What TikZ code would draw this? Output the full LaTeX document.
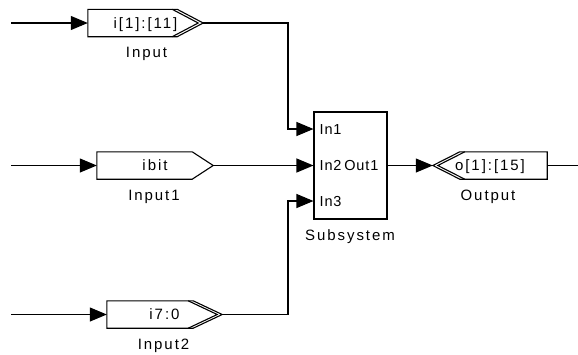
\documentclass[tikz,border=0pt]{standalone}
\usepackage{fontspec}
\setmainfont{Liberation Sans}
\newfontfamily\blockfont[LetterSpace=13]{Liberation Sans}
\newfontfamily\portfont[LetterSpace=6]{Liberation Sans}
\usetikzlibrary{arrows.meta,calc}

\begin{document}
\begin{tikzpicture}[x=1pt,y=-1pt,
  wire/.style={line width=1.1pt},
  sig/.style={wire,-{Triangle[length=17pt,width=14pt]}},
  outline/.style={line width=1.1pt,line join=miter},
  gw/.style={minimum height=27pt,inner sep=0pt,
    font={\blockfont\fontsize{15pt}{18pt}\selectfont},
    text height=10.7pt,text depth=0pt},
  lbl/.style={anchor=base,inner sep=0pt,
    font={\blockfont\fontsize{15pt}{18pt}\selectfont}},
  portlbl/.style={inner sep=0pt,
    font={\portfont\fontsize{14.5pt}{17pt}\selectfont},
    text height=10.4pt,text depth=0pt}
]
\useasboundingbox (0,0) rectangle (578,354);

% gateway blocks
\node[gw,minimum width=115pt] (gin)  at (145.5,23)    {i[1]:[11]};
\node[gw,minimum width=116pt] (gin1) at (155,165.5)   {ibit};
\node[gw,minimum width=115pt] (gin2) at (164.5,314.5) {i7:0};
\node[gw,minimum width=114pt] (gout) at (490,165.5)   {o[1]:[15]};

% Input: double chevron
\draw[outline] (gin.north west) -- ([xshift=-26pt]gin.north east) -- (gin.east)
  -- ([xshift=-26pt]gin.south east) -- (gin.south west) -- cycle;
\draw[outline] ([xshift=-31pt]gin.north east) -- ([xshift=-5pt]gin.east)
  -- ([xshift=-31pt]gin.south east);

% Input1: single chevron
\draw[outline] (gin1.north west) -- ([xshift=-21pt]gin1.north east) -- (gin1.east)
  -- ([xshift=-21pt]gin1.south east) -- (gin1.south west) -- cycle;

% Input2: double chevron
\draw[outline] (gin2.north west) -- ([xshift=-29pt]gin2.north east) -- (gin2.east)
  -- ([xshift=-29pt]gin2.south east) -- (gin2.south west) -- cycle;
\draw[outline] ([xshift=-34pt]gin2.north east) -- ([xshift=-5pt]gin2.east)
  -- ([xshift=-34pt]gin2.south east);

% Output: double chevron on the left
\draw[outline] (gout.west) -- ([xshift=27pt]gout.north west) -- (gout.north east)
  -- (gout.south east) -- ([xshift=27pt]gout.south west) -- cycle;
\draw[outline] ([xshift=32pt]gout.north west) -- ([xshift=5pt]gout.west)
  -- ([xshift=32pt]gout.south west);

% block names
\node[lbl] (tin)  at (146.5,57.5) {Input};
\node[lbl] (tin1) at (154,200)    {Input1};
\node[lbl] (tin2) at (163.5,349)  {Input2};
\node[lbl] (tout) at (488,200)    {Output};

% subsystem
\node[draw,wire,minimum width=73pt,minimum height=107pt,inner sep=0pt]
  (sub) at (350.5,165.5) {};
\node[lbl] (tsub) at (350,240) {Subsystem};
\coordinate (p1) at ($(sub.west)+(0,-36.5)$);
\coordinate (p2) at (sub.west);
\coordinate (p3) at ($(sub.west)+(0,35.5)$);
\node[portlbl,anchor=west] (l1) at ($(p1)+(6,0)$) {In1};
\node[portlbl,anchor=west] (l2) at ($(p2)+(6,0)$) {In2};
\node[portlbl,anchor=west] (l3) at ($(p3)+(6,0)$) {In3};
\node[portlbl,anchor=east] (lo) at ($(sub.east)+(-9,0)$) {Out1};

% signal lines
\coordinate (s0) at (11,23);
\coordinate (s1) at (11,165.5);
\coordinate (s2) at (11,314.5);
\coordinate (bus) at (288,0);
\coordinate (e0) at (578,165.5);

\draw[sig] (s0) -- (gin.west);
\draw[sig] (s1) -- (gin1.west);
\draw[sig] (s2) -- (gin2.west);
\draw[sig] (gin.east) -| (bus |- p1) -- (p1);
\draw[sig] (gin1.east) -- (p2);
\draw[sig] (gin2.east) -| (bus |- p3) -- (p3);
\draw[sig] (sub.east) -- (gout.west);
\draw[wire] (gout.east) -- (e0);
\end{tikzpicture}
\end{document}
